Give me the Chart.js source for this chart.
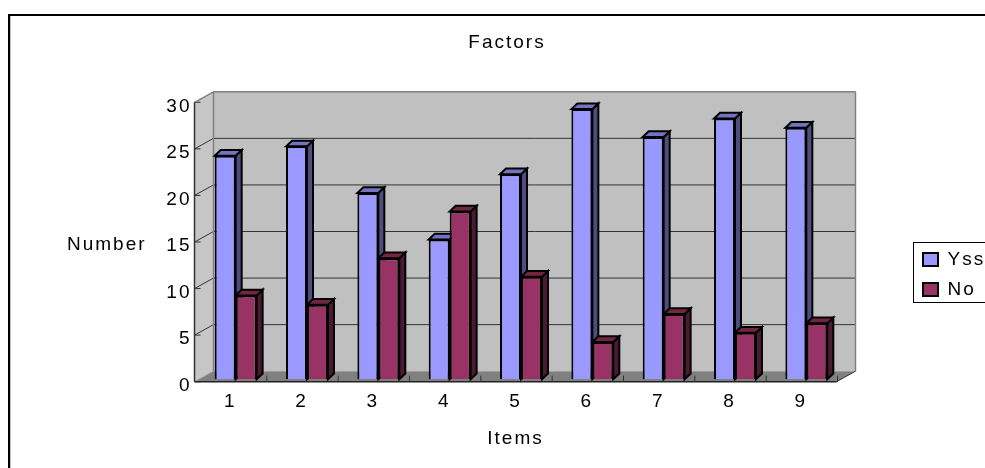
<!DOCTYPE html>
<html lang="en">
<head>
  <meta charset="UTF-8" />
  <title>Factors</title>
  <script src="https://cdn.jsdelivr.net/npm/chart.js"></script>
  <style>
    html, body {
      margin: 0;
      padding: 0;
      overflow: hidden;
      background: #fff;
    }
    #wrap {
      width: 985px;
      height: 468px;
      overflow: hidden;
    }
    canvas {
      display: block;
    }
  </style>
</head>
<body>
  <div id="wrap">
    <canvas id="chart" width="1010" height="490"></canvas>
  </div>

  <script>
    const items = ["1", "2", "3", "4", "5", "6", "7", "8", "9"];
    const yesValues = [24, 25, 20, 15, 22, 29, 26, 28, 27];
    const noValues = [9, 8, 13, 18, 11, 4, 7, 5, 6];
    const seriesNames = ["Yss", "No"];

    const canvasW = 1010, canvasH = 490;
    const plotL = 194.5, plotR = 836.5, plotT = 102.7, plotB = 381.7;
    const depthX = 19, depthY = 10.5;      // walls
    const barDX = 6, barDY = 5.7;          // bar depth
    const barShiftX = 5.5, barShiftY = -2.5; // bars sit a bit inside the floor
    const faceColors = ["#9999ff", "#993366"];
    const sideColors = ["#4d4d80", "#4d1a33"];
    const topColors = ["#7373bf", "#732640"];
    const fontName = "'Liberation Sans', Arial, sans-serif";
    const fontSize = 19;

    function quad(ctx, pts, fill, stroke, lw) {
      ctx.beginPath();
      ctx.moveTo(pts[0][0], pts[0][1]);
      for (let i = 1; i < pts.length; i++) ctx.lineTo(pts[i][0], pts[i][1]);
      ctx.closePath();
      if (fill) { ctx.fillStyle = fill; ctx.fill(); }
      if (stroke) { ctx.strokeStyle = stroke; ctx.lineWidth = lw; ctx.stroke(); }
    }

    function line(ctx, x1, y1, x2, y2, color, lw) {
      ctx.beginPath();
      ctx.moveTo(x1, y1);
      ctx.lineTo(x2, y2);
      ctx.strokeStyle = color;
      ctx.lineWidth = lw;
      ctx.stroke();
    }

    const threeD = {
      id: "threeD",
      afterLayout(chart) {
        // legend sits outside the plot, over to the right
        const lg = chart.legend;
        lg.left = 912;
        lg.right = 1000;
        lg.top = 239;
        lg.bottom = 420;
        // title is centred on the whole picture, not on the plot
        chart.titleBlock.left = 0;
        chart.titleBlock.right = 1014;
      },
      beforeDraw(chart) {
        const ctx = chart.ctx;
        // the canvas state gets reset on resize, so set the wide text here
        ctx.letterSpacing = "2px";
        ctx.save();
        ctx.fillStyle = "#fff";
        ctx.fillRect(0, 0, canvasW, canvasH);
        ctx.strokeStyle = "#000";
        ctx.lineWidth = 2;
        ctx.strokeRect(9, 15, 1100, 1000);
        line(ctx, 10.5, 16, 10.5, canvasH, "#c0c0c0", 1);
        ctx.restore();
      },
      beforeDatasetsDraw(chart) {
        const ctx = chart.ctx, y = chart.scales.y, x = chart.scales.x;
        const top = y.getPixelForValue(30), bot = y.getPixelForValue(0);
        const l = x.left, r = x.right;
        ctx.save();

        // walls and floor
        quad(ctx, [[l + depthX, top - depthY], [r + depthX, top - depthY], [r + depthX, bot - depthY], [l + depthX, bot - depthY]], "#c0c0c0");
        quad(ctx, [[l, top], [l + depthX, top - depthY], [l + depthX, bot - depthY], [l, bot]], "#c6c6c6");
        quad(ctx, [[l, bot], [r, bot], [r + depthX, bot - depthY], [l + depthX, bot - depthY]], "#808080");

        // gridlines, back wall + left wall
        y.ticks.forEach(t => {
          const py = y.getPixelForValue(t.value);
          if (t.value > 0 && t.value < 30) {
            line(ctx, l + depthX, py - depthY, r + depthX, py - depthY, "#333", 1);
            line(ctx, l, py, l + depthX, py - depthY, "#333", 1);
          }
          line(ctx, l, py, l + 6, py, "#333", 1);
        });

        // wall edges
        line(ctx, l + depthX, top - depthY, r + depthX, top - depthY, "#808080", 1.5);
        line(ctx, r + depthX, top - depthY, r + depthX, bot - depthY, "#808080", 1.5);
        line(ctx, l + depthX, top - depthY, l + depthX, bot - depthY, "#808080", 1.5);
        line(ctx, l, top, l + depthX, top - depthY, "#808080", 1.5);
        line(ctx, r, bot, r + depthX, bot - depthY, "#333", 1);
        line(ctx, l, bot, l + depthX, bot - depthY, "#999", 1);

        // axes and x ticks
        line(ctx, l, top, l, bot, "#333", 1.5);
        line(ctx, l, bot, r, bot, "#222", 1.5);
        for (let i = 1; i <= items.length; i++) {
          const tx = l + (r - l) * i / items.length + 1;
          line(ctx, tx, bot - 6, tx, bot, "#333", 1);
        }

        // bars are shifted into the floor, the depth faces go in first
        ctx.translate(barShiftX, barShiftY);
        [0, 1].forEach(ds => {
          chart.getDatasetMeta(ds).data.forEach(bar => {
            const bl = bar.x - bar.width / 2, br = bar.x + bar.width / 2;
            quad(ctx, [[br, bar.y], [br + barDX, bar.y - barDY], [br + barDX, bar.base - barDY], [br, bar.base]], sideColors[ds], "#000", 2);
            quad(ctx, [[bl, bar.y], [bl + barDX, bar.y - barDY], [br + barDX, bar.y - barDY], [br, bar.y]], topColors[ds], "#000", 2);
          });
        });
      },
      afterDatasetsDraw(chart) {
        chart.ctx.restore();
      },
      afterDraw(chart) {
        const ctx = chart.ctx;
        ctx.save();
        // y axis title stays horizontal
        ctx.font = fontSize + "px " + fontName;
        ctx.fillStyle = "#000";
        ctx.textAlign = "left";
        ctx.textBaseline = "middle";
        ctx.fillText("Number", 67, 245);
        // legend frame
        ctx.strokeStyle = "#000";
        ctx.lineWidth = 1;
        ctx.strokeRect(913.5, 242.5, 120, 60);
        ctx.restore();
      }
    };

    new Chart(document.getElementById("chart"), {
      type: "bar",
      data: {
        labels: items,
        datasets: [
          { label: seriesNames[0], data: yesValues, backgroundColor: faceColors[0], borderColor: "#000", borderWidth: 2, clip: false },
          { label: seriesNames[1], data: noValues, backgroundColor: faceColors[1], borderColor: "#000", borderWidth: 2, clip: false }
        ]
      },
      options: {
        responsive: false,
        animation: false,
        categoryPercentage: 0.588,
        barPercentage: 1,
        font: { family: fontName, size: fontSize },
        color: "#000",
        layout: { padding: { left: 0, right: canvasW - plotR, top: 0, bottom: 0 } },
        scales: {
          x: {
            grid: { display: false, drawTicks: false },
            border: { display: false },
            ticks: { color: "#000", font: { family: fontName, size: fontSize }, padding: 9, maxRotation: 0 },
            title: { display: true, text: "Items", color: "#000", font: { family: fontName, size: fontSize }, padding: { top: 0, bottom: 40 } },
            afterFit(scale) { scale.height = canvasH - plotB; }
          },
          y: {
            min: 0,
            max: 30,
            grid: { display: false, drawTicks: false },
            border: { display: false },
            ticks: { stepSize: 5, color: "#000", font: { family: fontName, size: fontSize }, padding: 3, labelOffset: 4 },
            afterFit(scale) { scale.width = plotL; }
          }
        },
        plugins: {
          title: {
            display: true,
            text: "Factors",
            color: "#000",
            font: { family: fontName, size: fontSize, weight: "normal" },
            padding: { top: 31, bottom: 48.5 }
          },
          legend: {
            position: "chartArea",
            align: "start",
            labels: { color: "#000", font: { family: fontName, size: fontSize }, boxWidth: 15, boxHeight: 13, padding: 11 }
          },
          tooltip: { enabled: false }
        }
      },
      plugins: [threeD]
    });
  </script>
</body>
</html>
